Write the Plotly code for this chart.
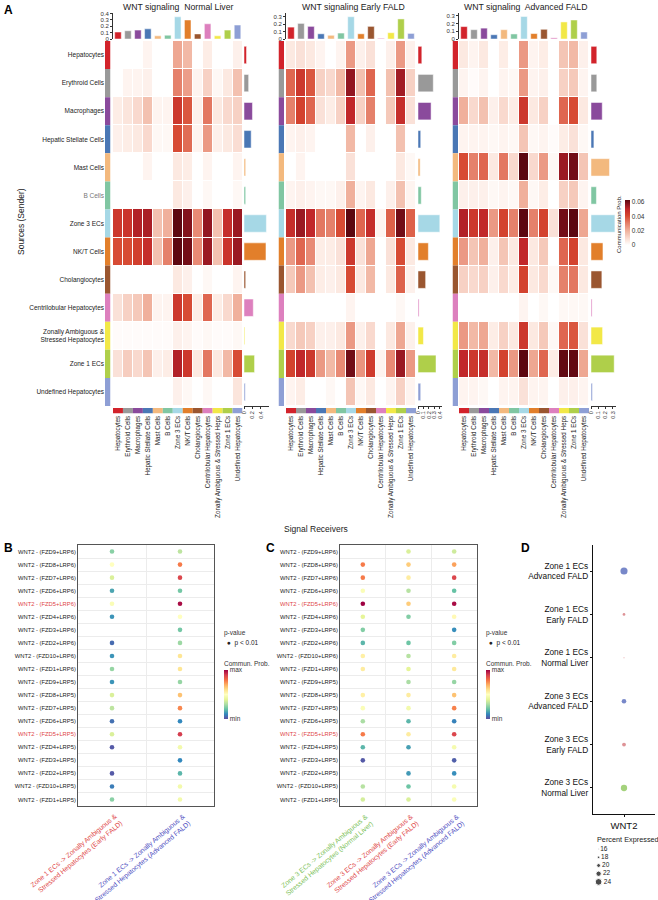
import plotly.graph_objects as go

W, H = 658, 900
FONT = "Liberation Sans, Arial, Helvetica, sans-serif"

# ---------------- DATA ----------------
cell_types = ["Hepatocytes", "Erythroid Cells", "Macrophages", "Hepatic Stellate Cells",
              "Mast Cells", "B Cells", "Zone 3 ECs", "NK/T Cells", "Cholangiocytes",
              "Centrilobular Hepatocytes", "Zonally Ambiguous & Stressed Heps",
              "Zone 1 ECs", "Undefined Hepatocytes"]
row_tick_labels = ["Hepatocytes", "Erythroid Cells", "Macrophages", "Hepatic Stellate Cells",
                   "Mast Cells", "<span style='color:#777'>B Cells</span>", "Zone 3 ECs", "NK/T Cells",
                   "Cholangiocytes", "Centrilobular Hepatocytes",
                   "Zonally Ambiguous &<br>Stressed Hepatocytes", "Zone 1 ECs",
                   "Undefined Hepatocytes"]
cell_colors = ["#D2232B", "#999999", "#8A4A9C", "#4A77B5", "#F3B97E", "#80C6A2", "#A6D8E6",
               "#E27F2B", "#9A5630", "#DD80BE", "#F2E847", "#AFCF4A", "#8E9FD5"]

normal_prob = [
    [0, 0, 0, 0.003, 0, 0, 0.022, 0.018, 0, 0.005, 0, 0, 0.004],
    [0, 0.003, 0.003, 0.004, 0, 0, 0.030, 0.024, 0.003, 0.012, 0.002, 0.006, 0.016],
    [0.005, 0.007, 0.010, 0.016, 0.003, 0.003, 0.045, 0.038, 0.004, 0.032, 0.006, 0.010, 0.012],
    [0.004, 0.005, 0.006, 0.010, 0.002, 0.002, 0.040, 0.034, 0.003, 0.025, 0.004, 0.006, 0.009],
    [0, 0, 0, 0.003, 0, 0, 0.006, 0.005, 0, 0.003, 0, 0, 0.003],
    [0, 0, 0, 0, 0, 0, 0.006, 0.004, 0, 0.002, 0, 0, 0.002],
    [0.045, 0.046, 0.052, 0.053, 0.016, 0.020, 0.066, 0.058, 0.028, 0.056, 0.016, 0.048, 0.055],
    [0.040, 0.040, 0.043, 0.048, 0.016, 0.030, 0.064, 0.060, 0.028, 0.055, 0.016, 0.046, 0.055],
    [0, 0, 0, 0, 0, 0, 0.006, 0.004, 0, 0.002, 0, 0, 0.003],
    [0.008, 0.012, 0.014, 0.020, 0.003, 0.003, 0.045, 0.040, 0.005, 0.035, 0.005, 0.010, 0.020],
    [0.001, 0.001, 0.001, 0.001, 0.001, 0.001, 0.004, 0.003, 0.001, 0.002, 0.001, 0.001, 0.002],
    [0.008, 0.013, 0.010, 0.015, 0.004, 0.005, 0.052, 0.045, 0.006, 0.032, 0.006, 0.018, 0.040],
    [0, 0, 0, 0, 0, 0, 0.004, 0.002, 0, 0.002, 0, 0, 0.007],
]
early_prob = [
    [0.006, 0.008, 0.006, 0.003, 0, 0.003, 0.025, 0.004, 0.008, 0, 0.004, 0.025, 0.004],
    [0.035, 0.045, 0.038, 0.012, 0.010, 0.018, 0.056, 0.016, 0.035, 0, 0.016, 0.054, 0.012],
    [0.030, 0.042, 0.035, 0.008, 0.005, 0.012, 0.050, 0.012, 0.030, 0, 0.014, 0.048, 0.008],
    [0.003, 0.004, 0.003, 0, 0, 0, 0.018, 0, 0.004, 0, 0, 0.016, 0],
    [0, 0.003, 0, 0, 0, 0, 0.008, 0, 0, 0, 0, 0.006, 0.002],
    [0.003, 0.004, 0.003, 0.002, 0.002, 0.004, 0.020, 0.003, 0.006, 0, 0.004, 0.016, 0.003],
    [0.048, 0.055, 0.050, 0.032, 0.030, 0.040, 0.066, 0.035, 0.048, 0.003, 0.036, 0.060, 0.036],
    [0.025, 0.035, 0.028, 0.005, 0.005, 0.008, 0.045, 0.008, 0.022, 0, 0.008, 0.040, 0.006],
    [0.014, 0.025, 0.016, 0.005, 0.004, 0.006, 0.040, 0.006, 0.018, 0, 0.006, 0.036, 0.004],
    [0, 0, 0, 0, 0, 0, 0.003, 0, 0, 0, 0, 0.002, 0],
    [0.010, 0.014, 0.012, 0.004, 0.004, 0.006, 0.025, 0.004, 0.010, 0, 0.006, 0.022, 0.004],
    [0.042, 0.050, 0.045, 0.025, 0.018, 0.028, 0.060, 0.026, 0.044, 0.003, 0.028, 0.055, 0.025],
    [0.003, 0.005, 0, 0, 0.002, 0, 0.015, 0.002, 0.006, 0, 0.003, 0.012, 0.003],
]
advanced_prob = [
    [0.006, 0.003, 0.006, 0, 0.005, 0, 0.025, 0.003, 0.005, 0, 0.015, 0.018, 0.004],
    [0.003, 0.001, 0.003, 0, 0.003, 0.002, 0.025, 0.003, 0.004, 0, 0.012, 0.014, 0.003],
    [0.020, 0.010, 0.016, 0.004, 0.010, 0.005, 0.045, 0.006, 0.012, 0, 0.035, 0.040, 0.006],
    [0.003, 0.003, 0.003, 0.002, 0.003, 0.002, 0.015, 0.002, 0.003, 0.001, 0.005, 0.008, 0.002],
    [0.040, 0.030, 0.035, 0.006, 0.032, 0.010, 0.066, 0.010, 0.025, 0.002, 0.055, 0.060, 0.015],
    [0.004, 0.004, 0.004, 0.002, 0.003, 0.002, 0.020, 0.002, 0.005, 0, 0.012, 0.014, 0.003],
    [0.052, 0.045, 0.050, 0.025, 0.042, 0.030, 0.068, 0.030, 0.042, 0.008, 0.060, 0.064, 0.022],
    [0.025, 0.015, 0.020, 0.004, 0.015, 0.006, 0.050, 0.006, 0.014, 0, 0.035, 0.042, 0.006],
    [0.012, 0.010, 0.012, 0.004, 0.010, 0.005, 0.042, 0.006, 0.010, 0.002, 0.030, 0.032, 0.006],
    [0, 0, 0, 0, 0, 0, 0.003, 0, 0.002, 0, 0.002, 0.002, 0.002],
    [0.025, 0.018, 0.022, 0.005, 0.012, 0.006, 0.045, 0.006, 0.014, 0.002, 0.035, 0.038, 0.008],
    [0.050, 0.045, 0.048, 0.018, 0.042, 0.025, 0.070, 0.022, 0.035, 0.005, 0.062, 0.062, 0.022],
    [0.003, 0.003, 0.002, 0, 0.003, 0.003, 0.008, 0.003, 0.003, 0, 0.004, 0.004, 0.003],
]

normal_incoming = [0.11, 0.13, 0.14, 0.16, 0.05, 0.06, 0.35, 0.30, 0.08, 0.24, 0.05, 0.14, 0.22]
normal_outgoing = [0.06, 0.11, 0.20, 0.17, 0.04, 0.04, 0.53, 0.52, 0.04, 0.22, 0.02, 0.25, 0.03]
early_incoming = [0.16, 0.21, 0.17, 0.07, 0.05, 0.08, 0.30, 0.07, 0.17, 0.01, 0.085, 0.27, 0.075]
early_outgoing = [0.07, 0.28, 0.24, 0.05, 0.04, 0.06, 0.40, 0.19, 0.14, 0.02, 0.10, 0.33, 0.05]
advanced_incoming = [0.16, 0.12, 0.14, 0.055, 0.12, 0.065, 0.29, 0.07, 0.125, 0.015, 0.22, 0.245, 0.09]
advanced_outgoing = [0.08, 0.08, 0.155, 0.04, 0.255, 0.075, 0.33, 0.165, 0.15, 0.015, 0.16, 0.32, 0.02]

lr_pairs = ["WNT2 - (FZD9+LRP6)", "WNT2 - (FZD8+LRP6)", "WNT2 - (FZD7+LRP6)", "WNT2 - (FZD6+LRP6)",
            "WNT2 - (FZD5+LRP6)", "WNT2 - (FZD4+LRP6)", "WNT2 - (FZD3+LRP6)", "WNT2 - (FZD2+LRP6)",
            "WNT2 - (FZD10+LRP6)", "WNT2 - (FZD1+LRP6)", "WNT2 - (FZD9+LRP5)", "WNT2 - (FZD8+LRP5)",
            "WNT2 - (FZD7+LRP5)", "WNT2 - (FZD6+LRP5)", "WNT2 - (FZD5+LRP5)", "WNT2 - (FZD4+LRP5)",
            "WNT2 - (FZD3+LRP5)", "WNT2 - (FZD2+LRP5)", "WNT2 - (FZD10+LRP5)", "WNT2 - (FZD1+LRP5)"]
lr_highlight = ["WNT2 - (FZD5+LRP6)", "WNT2 - (FZD5+LRP5)"]

B_pairs = ["Zone 1 ECs -&gt; Zonally Ambiguous &<br>Stressed Hepatocytes (Early FALD)",
           "Zone 1 ECs -&gt; Zonally Ambiguous &<br>Stressed Hepatocytes (Advanced FALD)"]
B_pair_colors = ["#E04848", "#4F4FBF"]
B_early = [0.25, 0.50, 0.38, 0.15, 0.48, 0.12, None, 0.05, 0.12, 0.27, 0.12, 0.38, 0.33, 0.06,
           0.38, 0.02, None, 0.02, 0.08, 0.25]
B_advanced = [0.33, 0.78, 0.88, 0.22, 0.98, 0.50, 0.22, 0.28, 0.58, 0.58, 0.27, 0.66, 0.76, 0.10,
              0.90, 0.45, 0.10, 0.18, 0.45, 0.45]

C_pairs = ["Zone 3 ECs -&gt; Zonally Ambiguous &<br>Stressed Hepatocytes (Normal Liver)",
           "Zone 3 ECs -&gt; Zonally Ambiguous &<br>Stressed Hepatocytes (Early FALD)",
           "Zone 3 ECs -&gt; Zonally Ambiguous &<br>Stressed Hepatocytes (Advanced FALD)"]
C_pair_colors = ["#7DBF5A", "#E04848", "#4F4FBF"]
C_normal = [None, 0.78, 0.78, 0.48, 1.0, 0.40, 0.24, 0.18, 0.55, 0.56, None, 0.55, 0.48, 0.30,
            0.78, 0.18, 0.02, None, 0.32, 0.37]
C_early = [0.38, 0.64, 0.56, 0.32, 0.64, 0.24, None, 0.21, 0.32, 0.40, 0.30, 0.56, 0.45, 0.18,
           0.56, 0.14, None, 0.13, 0.21, 0.38]
C_advanced = [0.36, 0.72, 0.88, 0.20, 0.98, 0.52, 0.11, 0.24, 0.56, 0.57, 0.27, 0.66, 0.77, 0.09,
              0.88, 0.46, 0.03, 0.11, 0.46, 0.48]

D_groups = ["Zone 1 ECs<br>Advanced FALD", "Zone 1 ECs<br>Early FALD", "Zone 1 ECs<br>Normal Liver",
            "Zone 3 ECs<br>Advanced FALD", "Zone 3 ECs<br>Early FALD", "Zone 3 ECs<br>Normal Liver"]
D_gene = "WNT2"
D_pct_expressed = [24.5, 18.4, 16.0, 21.0, 20.0, 23.4]
D_colors = ["#3F55B2", "#D0656B", "#D0656B", "#3F55B2", "#D0656B", "#7DBF45"]
D_legend_pct = [16, 18, 20, 22, 24]

# ---------------- HELPERS ----------------
def px_x(a, b):
    return [a / W, b / W]

def px_y(top, bottom):
    return [1 - bottom / H, 1 - top / H]

def xref(k):
    return "x" if k == 1 else f"x{k}"

def yref(k):
    return "y" if k == 1 else f"y{k}"

def xkey(k):
    return "xaxis" if k == 1 else f"xaxis{k}"

def ykey(k):
    return "yaxis" if k == 1 else f"yaxis{k}"

def dot_size(p):
    return 1.0 + (p - 16) * 0.72

heat_scale = [[0, "#ffffff"], [0.1, "#fce8e0"], [0.3, "#f1b6a2"], [0.5, "#e47a64"],
              [0.65, "#d6462f"], [0.8, "#c0262a"], [0.9, "#8e1520"], [1, "#5c0710"]]
spectral_r = [[0, "#5E4FA2"], [0.1, "#3288BD"], [0.2, "#66C2A5"], [0.3, "#ABDDA4"],
              [0.4, "#E6F598"], [0.5, "#FFFFBF"], [0.6, "#FEE08B"], [0.7, "#FDAE61"],
              [0.8, "#F46D43"], [0.9, "#D53E4F"], [1, "#9E0142"]]

fig = go.Figure()
layout = dict(
    width=W, height=H, margin=dict(l=0, r=0, t=0, b=0), template="none",
    paper_bgcolor="white", plot_bgcolor="white", barmode="overlay", showlegend=False,
    font=dict(family=FONT, size=7, color="#222"),
)
annotations = []

def ann(text, x, y, size=7, xanchor="center", yanchor="middle", angle=0, color="#222"):
    annotations.append(dict(text=text, x=x / W, y=1 - y / H, xref="paper", yref="paper",
                            showarrow=False, xanchor=xanchor, yanchor=yanchor, textangle=angle,
                            font=dict(size=size, color=color, family=FONT)))

# ---------------- PANEL A ----------------
panels = [
    dict(title="WNT signaling  Normal Liver", tx=178, heat=(113, 242.5), strip=(105, 110.5),
         right=(244, 268.5), rmax=0.58, rdt=0.2, tmax=0.41, probs=normal_prob,
         inc=normal_incoming, out=normal_outgoing, labels=True),
    dict(title="WNT signaling Early FALD", tx=353, heat=(286, 416), strip=(278.5, 284),
         right=(418, 442), rmax=0.44, rdt=0.1, tmax=0.35, probs=early_prob,
         inc=early_incoming, out=early_outgoing, labels=False),
    dict(title="WNT signaling  Advanced FALD", tx=525, heat=(459, 589), strip=(452.5, 458),
         right=(591, 616), rmax=0.345, rdt=0.1, tmax=0.335, probs=advanced_prob,
         inc=advanced_incoming, out=advanced_outgoing, labels=False),
]
cat_range = [-0.5, len(cell_types) - 0.5]

for i, p in enumerate(panels):
    xh, xs, xr = 3 * i + 1, 3 * i + 2, 3 * i + 3
    yh, yt, ys = 3 * i + 1, 3 * i + 2, 3 * i + 3
    fig.add_trace(go.Heatmap(z=p["probs"], x=cell_types, y=cell_types, coloraxis="coloraxis",
                             xgap=1, ygap=1, xaxis=xref(xh), yaxis=yref(yh), hoverinfo="skip"))
    fig.add_trace(go.Bar(x=[1] * len(cell_types), y=cell_types, orientation="h", width=1,
                         marker=dict(color=cell_colors, line=dict(width=0)),
                         xaxis=xref(xs), yaxis=yref(yh), hoverinfo="skip"))
    fig.add_trace(go.Bar(x=p["out"], y=cell_types, orientation="h", width=0.62,
                         marker=dict(color=cell_colors, line=dict(color="white", width=0.5)),
                         xaxis=xref(xr), yaxis=yref(yh), hoverinfo="skip"))
    fig.add_trace(go.Bar(x=cell_types, y=p["inc"], width=0.66,
                         marker=dict(color=cell_colors, line=dict(color="white", width=0.5)),
                         xaxis=xref(xh), yaxis=yref(yt), hoverinfo="skip"))
    fig.add_trace(go.Bar(x=cell_types, y=[1] * len(cell_types), width=1,
                         marker=dict(color=cell_colors, line=dict(width=0)),
                         xaxis=xref(xh), yaxis=yref(ys), hoverinfo="skip"))

    layout[xkey(xh)] = dict(domain=px_x(*p["heat"]), anchor=yref(ys), type="category",
                            categoryorder="array", categoryarray=cell_types, range=cat_range,
                            tickangle=-90, tickfont=dict(size=6.3, color="#222"), ticks="",
                            showgrid=False, zeroline=False, showline=False)
    layout[ykey(yh)] = dict(domain=px_y(41, 406), anchor=xref(xs), type="category",
                            categoryorder="array", categoryarray=cell_types,
                            range=[cat_range[1], cat_range[0]], showticklabels=p["labels"],
                            tickmode="array", tickvals=cell_types, ticktext=row_tick_labels,
                            tickfont=dict(size=6.5, color="#222"), ticks="", showgrid=False,
                            zeroline=False, showline=False)
    layout[xkey(xs)] = dict(domain=px_x(*p["strip"]), anchor=yref(yh), range=[0, 1], visible=False,
                            showgrid=False, zeroline=False)
    layout[xkey(xr)] = dict(domain=px_x(*p["right"]), anchor=yref(yh), range=[0, p["rmax"]],
                            tick0=0, dtick=p["rdt"], showline=True, linecolor="#333", linewidth=0.8,
                            ticks="outside", ticklen=2, tickwidth=0.8, tickcolor="#333",
                            tickangle=-90, tickfont=dict(size=5.5, color="#333"),
                            showgrid=False, zeroline=False)
    layout[ykey(yt)] = dict(domain=px_y(13, 39), anchor=xref(xh), range=[0, p["tmax"]], tick0=0,
                            dtick=0.1, showline=True, linecolor="#333", linewidth=0.8,
                            ticks="outside", ticklen=2, tickwidth=0.8, tickcolor="#333",
                            tickfont=dict(size=6, color="#333"), showgrid=False, zeroline=False)
    layout[ykey(ys)] = dict(domain=px_y(408, 413.5), anchor=xref(xh), range=[0, 1], visible=False,
                            showgrid=False, zeroline=False)
    ann(p["title"], p["tx"], 7, size=8.7)

layout["coloraxis"] = dict(
    colorscale=heat_scale, cmin=0, cmax=0.0628,
    colorbar=dict(x=625 / W, xanchor="left", y=1 - 200 / H, yanchor="top", len=45,
                  lenmode="pixels", thickness=5, xpad=0, ypad=0, outlinewidth=0, ticks="",
                  tickvals=[0, 0.02, 0.04, 0.06], ticktext=["0", "0.02", "0.04", "0.06"],
                  tickfont=dict(size=6.5, color="#333")))
ann("Communication Prob.", 619, 224, size=6, angle=-90)
ann("<b>A</b>", 2, 10, size=12, xanchor="left", color="#000")
ann("Sources (Sender)", 21, 222, size=8.5, angle=-90)
ann("Signal Receivers", 316, 529, size=8.5)

# ---------------- PANELS B & C ----------------
def lr_ticktext():
    out = []
    for lr in lr_pairs:
        if lr in lr_highlight:
            out.append(f"<span style='color:#E04848'>{lr}</span>")
        else:
            out.append(lr)
    return out

def bubble_panel(k, pairs, pair_colors, series, xdom, caxis):
    for j, vals in enumerate(series):
        xs_, ys_, cs_ = [], [], []
        for r, v in enumerate(vals):
            if v is not None:
                xs_.append(pairs[j]); ys_.append(lr_pairs[r]); cs_.append(v)
        fig.add_trace(go.Scatter(x=xs_, y=ys_, mode="markers",
                                 marker=dict(size=4.6, color=cs_, coloraxis=caxis, line=dict(width=0)),
                                 xaxis=xref(k), yaxis=yref(k), hoverinfo="skip"))
    # rotated category labels, placed at each category of the x axis
    for j, (t, c) in enumerate(zip(pairs, pair_colors)):
        annotations.append(dict(text=t, x=j, y=len(lr_pairs) - 0.5, xref=xref(k), yref=yref(k),
                                showarrow=False, xanchor="right", yanchor="top", align="right",
                                textangle=-40, xshift=15, yshift=-4,
                                font=dict(size=6.8, color=c, family=FONT)))
    layout[xkey(k)] = dict(domain=px_x(*xdom), anchor=yref(k), type="category",
                           categoryorder="array", categoryarray=pairs,
                           range=[-0.5, len(pairs) - 0.5], tickson="boundaries",
                           showgrid=True, gridcolor="#ececec", gridwidth=0.6,
                           showline=True, mirror=True, linecolor="#555", linewidth=1,
                           ticks="", showticklabels=False, zeroline=False)
    layout[ykey(k)] = dict(domain=px_y(545, 806), anchor=xref(k), type="category",
                           categoryorder="array", categoryarray=lr_pairs,
                           range=[len(lr_pairs) - 0.5, -0.5], tickson="boundaries",
                           showgrid=True, gridcolor="#ececec", gridwidth=0.6,
                           showline=True, mirror=True, linecolor="#555", linewidth=1,
                           ticks="", tickmode="array", tickvals=lr_pairs, ticktext=lr_ticktext(),
                           tickfont=dict(size=5.8, color="#222"), zeroline=False)

bubble_panel(10, B_pairs, B_pair_colors, [B_early, B_advanced], (78, 214), "coloraxis2")
bubble_panel(11, C_pairs, C_pair_colors, [C_normal, C_early, C_advanced], (340, 477), "coloraxis3")

for name, lx in (("coloraxis2", 222), ("coloraxis3", 484)):
    layout[name] = dict(colorscale=spectral_r, cmin=0, cmax=1,
                        colorbar=dict(x=(lx + 2) / W, xanchor="left", y=1 - 670 / H, yanchor="top",
                                      len=49, lenmode="pixels", thickness=4, xpad=0, ypad=0,
                                      outlinewidth=0, ticks="", tickvals=[0, 1],
                                      ticktext=["min", "max"], tickfont=dict(size=6.5, color="#333")))
    ann("p-value", lx, 633, size=6.5, xanchor="left", color="#333")
    ann("●  p < 0.01", lx + 3, 643, size=6.5, xanchor="left", color="#222")
    ann("Commun. Prob.", lx, 663, size=6.5, xanchor="left", color="#333")

ann("<b>B</b>", 2, 548, size=12, xanchor="left", color="#000")
ann("<b>C</b>", 264, 548, size=12, xanchor="left", color="#000")
ann("<b>D</b>", 519, 548, size=12, xanchor="left", color="#000")

# ---------------- PANEL D ----------------
fig.add_trace(go.Scatter(x=[D_gene] * len(D_groups), y=D_groups, mode="markers",
                         marker=dict(size=[dot_size(v) for v in D_pct_expressed], color=D_colors,
                                     line=dict(width=0)),
                         xaxis=xref(12), yaxis=yref(12), hoverinfo="skip"))
layout[xkey(12)] = dict(domain=px_x(593, 655), anchor=yref(12), type="category",
                        categoryarray=[D_gene], range=[-0.5, 0.5], showline=True,
                        linecolor="#111", linewidth=1.3, ticks="outside", ticklen=2,
                        tickcolor="#111", tickfont=dict(size=9.5, color="#111"),
                        showgrid=False, zeroline=False)
layout[ykey(12)] = dict(domain=px_y(545, 814), anchor=xref(12), type="category",
                        categoryorder="array", categoryarray=D_groups,
                        range=[len(D_groups) - 0.4, -0.6], showline=True, linecolor="#111",
                        linewidth=1.3, ticks="outside", ticklen=2, tickcolor="#111",
                        tickfont=dict(size=8.3, color="#111"), showgrid=False, zeroline=False)

fig.add_trace(go.Scatter(x=[0.1] * len(D_legend_pct), y=D_legend_pct, mode="markers+text",
                         text=[str(v) for v in D_legend_pct], textposition="middle right",
                         textfont=dict(size=6.5, color="#222"),
                         marker=dict(size=[dot_size(v) for v in D_legend_pct], color="#000"),
                         xaxis=xref(13), yaxis=yref(13), hoverinfo="skip", cliponaxis=False))
layout[xkey(13)] = dict(domain=px_x(594, 640), anchor=yref(13), range=[0, 1], visible=False)
layout[ykey(13)] = dict(domain=px_y(845, 886), anchor=xref(13), range=[25, 15], visible=False)
ann("Percent Expressed", 595, 839, size=7.3, xanchor="left")

layout["annotations"] = annotations
fig.update_layout(**layout)
fig.write_html("out.html")
